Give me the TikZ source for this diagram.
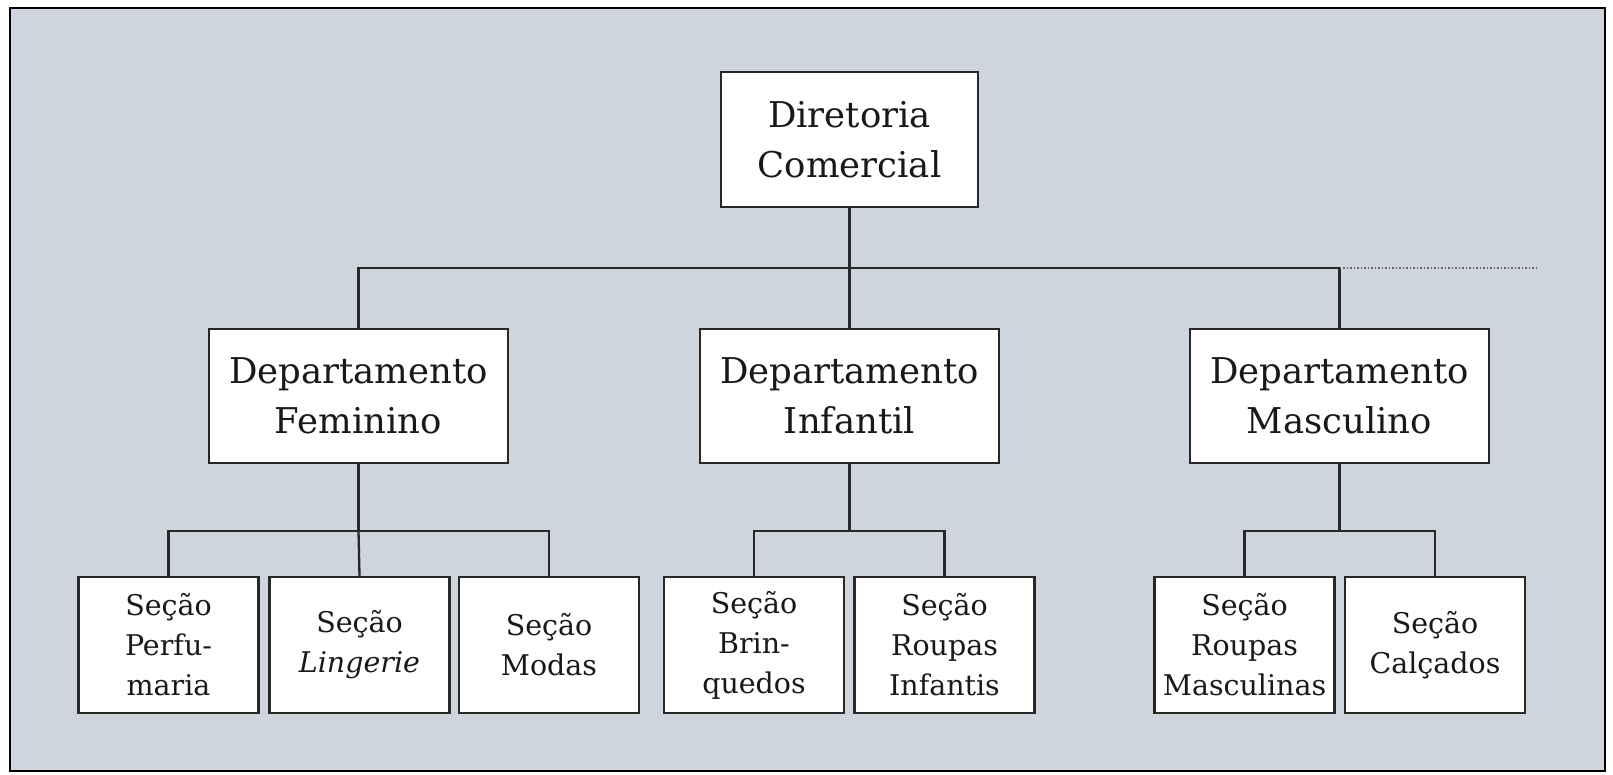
\documentclass[tikz,border=0pt]{standalone}
\usepackage{fontspec}
\setmainfont{DejaVu Serif}
\definecolor{bg}{RGB}{206,213,221}
\definecolor{ln}{RGB}{40,40,40}
\begin{document}
\begin{tikzpicture}[x=1pt,y=-1pt,
  box/.style={draw=ln,line width=2.4pt,fill=white,align=center,inner sep=0pt,text=black!90},
  big/.style={box,minimum height=135pt,font=\fontsize{35.5}{50}\selectfont},
  sec/.style={box,minimum width=180pt,minimum height=136pt,font=\fontsize{28.5}{40}\selectfont},
  link/.style={draw=ln,line width=2.3pt},
  dots/.style={draw=ln!70,line width=1.5pt,dotted}]
\useasboundingbox (0,0) rectangle (1613,775);
\draw[line width=2.5pt,fill=bg] (10,8) rectangle (1605,771);

\node[big,minimum width=257pt] (dir) at (849.5,139.5) {Diretoria\\Comercial};
\node[big,minimum width=299pt,minimum height=134pt] (fem) at (358.5,396) {Departamento\\Feminino};
\node[big,minimum width=299pt,minimum height=134pt] (inf) at (849.5,396) {Departamento\\Infantil};
\node[big,minimum width=299pt,minimum height=134pt] (mas) at (1339.5,396) {Departamento\\Masculino};

\node[sec] (perf) at (168.5,645) {Seção\\Perfu-\\maria};
\node[sec] (ling) at (359.5,645) {Seção\\\textit{Lingerie}};
\node[sec] (mod)  at (549,645)   {Seção\\Modas};
\node[sec] (brq)  at (754,645)   {Seção\\Brin-\\quedos};
\node[sec] (rin)  at (944.5,645) {Seção\\Roupas\\Infantis};
\node[sec] (rma)  at (1244.5,645) {Seção\\Roupas\\Masculinas};
\node[sec] (cal)  at (1435,645)  {Seção\\Calçados};

\coordinate (bus) at (849.5,268);
\coordinate (dotend) at (1538,268);
\coordinate (busf) at (358.5,531);
\coordinate (busi) at (849.5,531);
\coordinate (busm) at (1339.5,531);

\path[link] (dir.south) -- (bus);
\path[link] (fem.north) -- (fem.north |- bus) -- (mas.north |- bus) -- (mas.north);
\path[link] (inf.north) -- (bus);
\path[dots] (mas.north |- bus) -- (dotend);

\path[link] (fem.south) -- (busf);
\path[link] (perf.north) -- (perf.north |- busf) -- (mod.north |- busf) -- (mod.north);
\path[link] (ling.north) -- (busf);

\path[link] (inf.south) -- (busi);
\path[link] (brq.north) -- (brq.north |- busi) -- (rin.north |- busi) -- (rin.north);

\path[link] (mas.south) -- (busm);
\path[link] (rma.north) -- (rma.north |- busm) -- (cal.north |- busm) -- (cal.north);
\end{tikzpicture}
\end{document}
